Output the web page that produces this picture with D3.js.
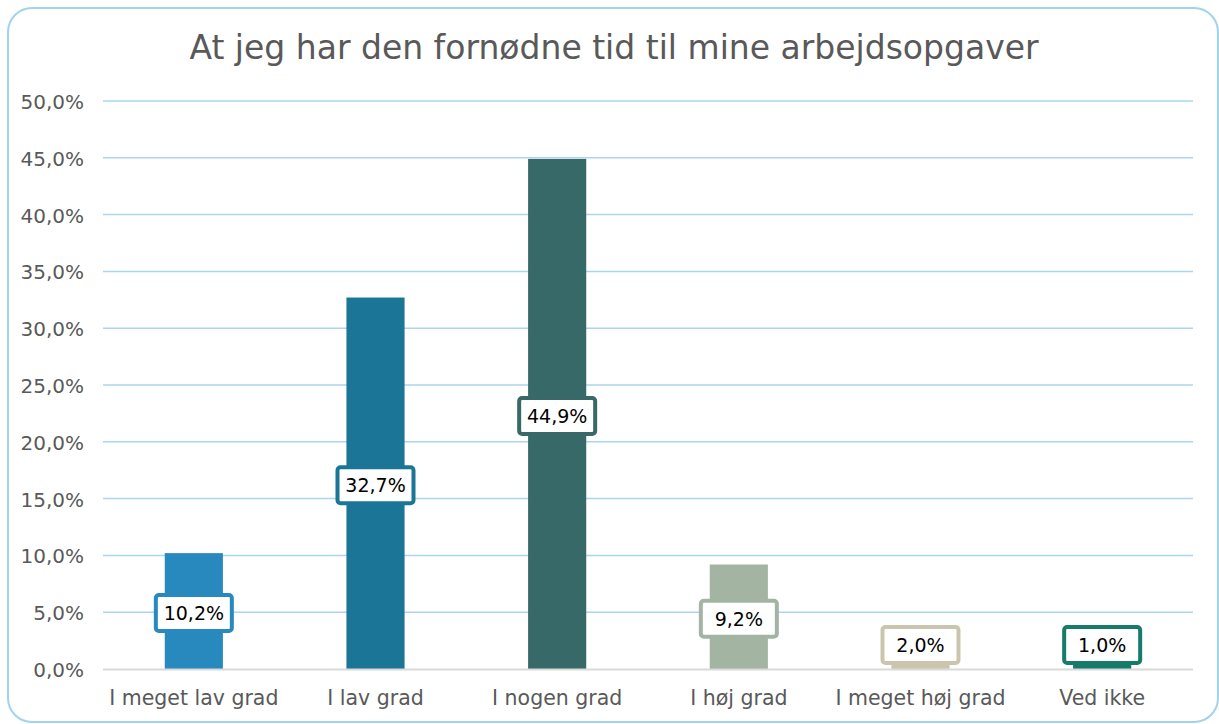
<!DOCTYPE html>
<html>
<head>
<meta charset="utf-8">
<style>
  body { margin: 0; background: white; }
  svg { display: block; font-family: "DejaVu Sans", sans-serif; }
</style>
</head>
<body>
<svg width="1219" height="724"></svg>
<script src="https://d3js.org/d3.v7.min.js"></script>
<script>
  let categories = ["I meget lav grad", "I lav grad", "I nogen grad", "I høj grad", "I meget høj grad", "Ved ikke"];
  let values = [10.2, 32.7, 44.9, 9.2, 2.0, 1.0];
  let colors = ["#2789BE", "#1B7596", "#376968", "#A3B4A2", "#CCC5AD", "#177B6C"];
  let ticks = [0, 5, 10, 15, 20, 25, 30, 35, 40, 45, 50];

  let svg = d3.select("svg");
  let fmt = v => v.toFixed(1).replace(".", ",") + "%";

  // outer frame
  svg.append("rect")
    .attr("x", 8).attr("y", 8)
    .attr("width", 1210).attr("height", 714)
    .attr("rx", 24)
    .attr("fill", "white")
    .attr("stroke", "#A3D3EC")
    .attr("stroke-width", 2);

  svg.append("text")
    .attr("x", 614).attr("y", 59)
    .attr("text-anchor", "middle")
    .attr("font-size", 33)
    .attr("fill", "#595959")
    .text("At jeg har den fornødne tid til mine arbejdsopgaver");

  let x = d3.scaleBand().domain(categories).range([103, 1193]);
  let y = d3.scaleLinear().domain([0, 50]).range([669, 101]);

  // gridlines
  svg.append("g")
    .selectAll("line")
    .data(ticks.filter(t => t > 0))
    .join("line")
    .attr("x1", 103).attr("x2", 1193)
    .attr("y1", d => y(d)).attr("y2", d => y(d))
    .attr("stroke", "#A9D6EC")
    .attr("stroke-width", 1.5);

  // y tick labels
  svg.append("g")
    .selectAll("text")
    .data(ticks)
    .join("text")
    .attr("x", 84)
    .attr("y", d => y(d) + 8)
    .attr("text-anchor", "end")
    .attr("font-size", 20)
    .attr("fill", "#595959")
    .text(d => fmt(d));

  let barW = x.bandwidth() * 0.32;

  svg.append("g")
    .selectAll("rect")
    .data(values)
    .join("rect")
    .attr("x", (d, i) => x(categories[i]) + x.bandwidth() / 2 - barW / 2)
    .attr("y", d => y(d))
    .attr("width", barW)
    .attr("height", d => y(0) - y(d))
    .attr("fill", (d, i) => colors[i]);

  // axis line
  svg.append("line")
    .attr("x1", 103).attr("x2", 1193)
    .attr("y1", 669.5).attr("y2", 669.5)
    .attr("stroke", "#D9D9D9")
    .attr("stroke-width", 2);

  // category labels
  svg.append("g")
    .selectAll("text")
    .data(categories)
    .join("text")
    .attr("x", d => x(d) + x.bandwidth() / 2)
    .attr("y", 705)
    .attr("text-anchor", "middle")
    .attr("font-size", 20.5)
    .attr("fill", "#595959")
    .text(d => d);

  // data labels
  let labels = svg.append("g")
    .selectAll("g")
    .data(values)
    .join("g")
    .attr("transform", (d, i) => {
      let cy = Math.min((y(d) + y(0)) / 2 + 2, 645);
      return `translate(${x(categories[i]) + x.bandwidth() / 2},${cy})`;
    });

  labels.append("rect")
    .attr("x", -38).attr("y", -18)
    .attr("width", 76).attr("height", 36)
    .attr("rx", 3)
    .attr("fill", "white")
    .attr("stroke", (d, i) => colors[i])
    .attr("stroke-width", 4);

  labels.append("text")
    .attr("y", 7)
    .attr("text-anchor", "middle")
    .attr("font-size", 19)
    .attr("fill", "#000")
    .text(d => fmt(d));
</script>
</body>
</html>
